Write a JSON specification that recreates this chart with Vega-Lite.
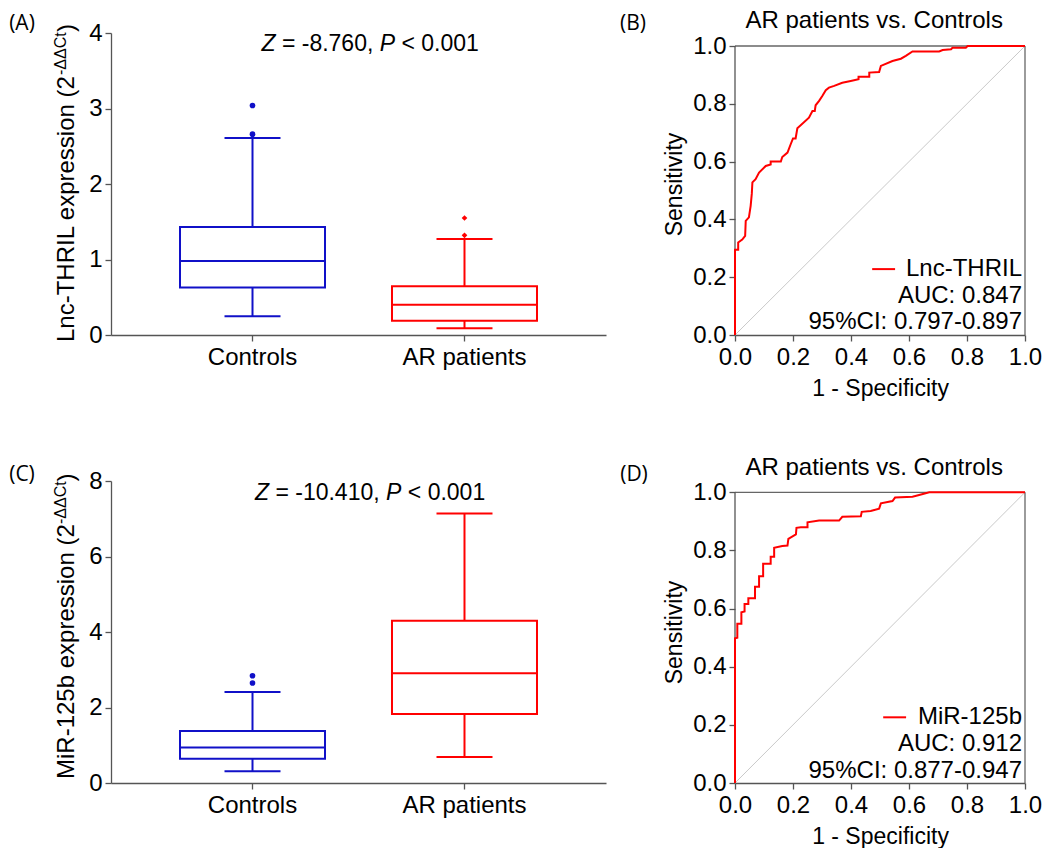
{
 "$schema": "https://vega.github.io/schema/vega-lite/v6.json",
 "background": "white",
 "padding": {"left": 9, "top": 9, "right": 0, "bottom": 0},
 "config": {
  "font": "Liberation Sans",
  "view": {"stroke": null},
  "axis": {"labelFont": "Liberation Sans", "labelFontSize": 24, "labelColor": "#000", "titleFont": "Liberation Sans", "titleFontSize": 23, "titleFontWeight": "normal", "titleColor": "#000", "domainColor": "#555", "tickColor": "#555", "domainWidth": 1.3, "tickWidth": 1.3, "tickSize": 6, "grid": false, "labelPadding": 3, "labelFlush": false},
  "text": {"font": "Liberation Sans", "color": "#000"}
 },
 "datasets": {
  "boxA": [
   {"group": "Controls", "lower": 0.25, "q1": 0.63, "median": 0.98, "q3": 1.43, "upper": 2.61},
   {"group": "AR patients", "lower": 0.09, "q1": 0.19, "median": 0.40, "q3": 0.645, "upper": 1.27}
  ],
  "outA": [
   {"group": "Controls", "value": 3.04},
   {"group": "Controls", "value": 2.66},
   {"group": "AR patients", "value": 1.55},
   {"group": "AR patients", "value": 1.32}
  ],
  "boxC": [
   {"group": "Controls", "lower": 0.31, "q1": 0.64, "median": 0.94, "q3": 1.38, "upper": 2.41},
   {"group": "AR patients", "lower": 0.69, "q1": 1.83, "median": 2.91, "q3": 4.30, "upper": 7.14}
  ],
  "outC": [
   {"group": "Controls", "value": 2.84},
   {"group": "Controls", "value": 2.65}
  ],
  "rocB": [
   {"fpr": 0, "tpr": 0}, {"fpr": 0, "tpr": 0.295}, {"fpr": 0.011, "tpr": 0.295}, {"fpr": 0.011, "tpr": 0.32},
   {"fpr": 0.025, "tpr": 0.33}, {"fpr": 0.035, "tpr": 0.343}, {"fpr": 0.037, "tpr": 0.395}, {"fpr": 0.048, "tpr": 0.407},
   {"fpr": 0.054, "tpr": 0.447}, {"fpr": 0.058, "tpr": 0.49}, {"fpr": 0.06, "tpr": 0.528}, {"fpr": 0.071, "tpr": 0.539},
   {"fpr": 0.083, "tpr": 0.562}, {"fpr": 0.106, "tpr": 0.585}, {"fpr": 0.123, "tpr": 0.59}, {"fpr": 0.123, "tpr": 0.6},
   {"fpr": 0.158, "tpr": 0.6}, {"fpr": 0.163, "tpr": 0.616}, {"fpr": 0.181, "tpr": 0.631}, {"fpr": 0.192, "tpr": 0.66},
   {"fpr": 0.2, "tpr": 0.68}, {"fpr": 0.209, "tpr": 0.68}, {"fpr": 0.215, "tpr": 0.715}, {"fpr": 0.255, "tpr": 0.752},
   {"fpr": 0.267, "tpr": 0.775}, {"fpr": 0.275, "tpr": 0.775}, {"fpr": 0.278, "tpr": 0.795}, {"fpr": 0.29, "tpr": 0.81},
   {"fpr": 0.301, "tpr": 0.827}, {"fpr": 0.313, "tpr": 0.847}, {"fpr": 0.324, "tpr": 0.856}, {"fpr": 0.342, "tpr": 0.862},
   {"fpr": 0.37, "tpr": 0.873}, {"fpr": 0.399, "tpr": 0.879}, {"fpr": 0.426, "tpr": 0.885}, {"fpr": 0.426, "tpr": 0.894},
   {"fpr": 0.463, "tpr": 0.894}, {"fpr": 0.463, "tpr": 0.908}, {"fpr": 0.497, "tpr": 0.91}, {"fpr": 0.503, "tpr": 0.931},
   {"fpr": 0.543, "tpr": 0.948}, {"fpr": 0.572, "tpr": 0.956}, {"fpr": 0.589, "tpr": 0.966}, {"fpr": 0.612, "tpr": 0.981},
   {"fpr": 0.704, "tpr": 0.981}, {"fpr": 0.716, "tpr": 0.986}, {"fpr": 0.745, "tpr": 0.989}, {"fpr": 0.75, "tpr": 0.994},
   {"fpr": 0.796, "tpr": 0.994}, {"fpr": 0.802, "tpr": 1.0}, {"fpr": 1.0, "tpr": 1.0}
  ],
  "rocD": [
   {"fpr": 0, "tpr": 0}, {"fpr": 0, "tpr": 0.498}, {"fpr": 0.008, "tpr": 0.5}, {"fpr": 0.008, "tpr": 0.548},
   {"fpr": 0.022, "tpr": 0.548}, {"fpr": 0.022, "tpr": 0.587}, {"fpr": 0.033, "tpr": 0.59}, {"fpr": 0.033, "tpr": 0.616},
   {"fpr": 0.046, "tpr": 0.616}, {"fpr": 0.046, "tpr": 0.636}, {"fpr": 0.069, "tpr": 0.636}, {"fpr": 0.069, "tpr": 0.675},
   {"fpr": 0.083, "tpr": 0.675}, {"fpr": 0.083, "tpr": 0.711}, {"fpr": 0.097, "tpr": 0.711}, {"fpr": 0.097, "tpr": 0.754},
   {"fpr": 0.123, "tpr": 0.754}, {"fpr": 0.123, "tpr": 0.778}, {"fpr": 0.135, "tpr": 0.778}, {"fpr": 0.135, "tpr": 0.809},
   {"fpr": 0.163, "tpr": 0.815}, {"fpr": 0.181, "tpr": 0.817}, {"fpr": 0.184, "tpr": 0.84}, {"fpr": 0.21, "tpr": 0.855},
   {"fpr": 0.212, "tpr": 0.878}, {"fpr": 0.227, "tpr": 0.88}, {"fpr": 0.25, "tpr": 0.88}, {"fpr": 0.25, "tpr": 0.897},
   {"fpr": 0.29, "tpr": 0.903}, {"fpr": 0.359, "tpr": 0.903}, {"fpr": 0.37, "tpr": 0.916}, {"fpr": 0.434, "tpr": 0.918},
   {"fpr": 0.437, "tpr": 0.933}, {"fpr": 0.468, "tpr": 0.936}, {"fpr": 0.497, "tpr": 0.944}, {"fpr": 0.503, "tpr": 0.962},
   {"fpr": 0.543, "tpr": 0.97}, {"fpr": 0.552, "tpr": 0.982}, {"fpr": 0.612, "tpr": 0.985}, {"fpr": 0.635, "tpr": 0.991},
   {"fpr": 0.67, "tpr": 1.0}, {"fpr": 1.0, "tpr": 1.0}
  ]
 },
 "columns": 2,
 "spacing": {"row": 146, "column": 129},
 "bounds": "flush",
 "concat": [
  {
   "width": 495, "height": 302,
   "data": {"name": "boxA"},
   "encoding": {"x": {"field": "group", "type": "nominal", "sort": ["Controls", "AR patients"], "scale": {"paddingInner": 0, "paddingOuter": 0.1675}, "axis": {"title": null, "labelAngle": 0, "labelPadding": 4}}},
   "layer": [
    {"mark": {"type": "rule", "strokeWidth": 2}, "encoding": {"y": {"field": "lower", "type": "quantitative", "scale": {"domain": [0, 4], "nice": false}, "axis": {"title": null, "values": [0, 1, 2, 3, 4], "format": "d"}}, "y2": {"field": "upper"}, "stroke": {"field": "group", "type": "nominal", "scale": {"domain": ["Controls", "AR patients"], "range": ["#1010C8", "#FF0000"]}, "legend": null}}},
    {"mark": {"type": "bar", "fill": "white", "strokeWidth": 2, "width": {"band": 0.684}}, "encoding": {"y": {"field": "q1", "type": "quantitative"}, "y2": {"field": "q3"}, "stroke": {"field": "group", "type": "nominal", "scale": {"domain": ["Controls", "AR patients"], "range": ["#1010C8", "#FF0000"]}, "legend": null}}},
    {"mark": {"type": "tick", "thickness": 2, "size": 145, "opacity": 1}, "encoding": {"y": {"field": "median", "type": "quantitative"}, "color": {"field": "group", "type": "nominal", "scale": {"domain": ["Controls", "AR patients"], "range": ["#1010C8", "#FF0000"]}, "legend": null}}},
    {"mark": {"type": "tick", "thickness": 2, "size": 56, "opacity": 1}, "encoding": {"y": {"field": "lower", "type": "quantitative"}, "color": {"field": "group", "type": "nominal", "scale": {"domain": ["Controls", "AR patients"], "range": ["#1010C8", "#FF0000"]}, "legend": null}}},
    {"mark": {"type": "tick", "thickness": 2, "size": 56, "opacity": 1}, "encoding": {"y": {"field": "upper", "type": "quantitative"}, "color": {"field": "group", "type": "nominal", "scale": {"domain": ["Controls", "AR patients"], "range": ["#1010C8", "#FF0000"]}, "legend": null}}},
    {"data": {"name": "outA"}, "mark": {"type": "point", "filled": true, "size": 32, "opacity": 1}, "encoding": {"y": {"field": "value", "type": "quantitative"}, "color": {"field": "group", "type": "nominal", "scale": {"domain": ["Controls", "AR patients"], "range": ["#1010C8", "#FF0000"]}, "legend": null}, "shape": {"field": "group", "type": "nominal", "scale": {"domain": ["Controls", "AR patients"], "range": ["circle", "diamond"]}, "legend": null}}},
    {"data": {"values": [{}]}, "mark": {"type": "text", "text": "(A)", "font": "Open Sans", "fontSize": 21, "align": "center", "baseline": "middle", "dx": -230.5, "dy": -9}, "encoding": {"x": {"datum": "Controls"}, "y": {"datum": 4}}},
    {"data": {"values": [{}]}, "mark": {"type": "text", "text": "Z", "fontStyle": "italic", "fontSize": 23, "align": "left", "baseline": "alphabetic", "dx": 9, "dy": 18}, "encoding": {"x": {"datum": "Controls"}, "y": {"datum": 4}}},
    {"data": {"values": [{}]}, "mark": {"type": "text", "text": "= -8.760,", "fontSize": 23, "align": "left", "baseline": "alphabetic", "dx": 29.4, "dy": 18}, "encoding": {"x": {"datum": "Controls"}, "y": {"datum": 4}}},
    {"data": {"values": [{}]}, "mark": {"type": "text", "text": "P", "fontStyle": "italic", "fontSize": 23, "align": "left", "baseline": "alphabetic", "dx": 127.3, "dy": 18}, "encoding": {"x": {"datum": "Controls"}, "y": {"datum": 4}}},
    {"data": {"values": [{}]}, "mark": {"type": "text", "text": "< 0.001", "fontSize": 23, "align": "left", "baseline": "alphabetic", "dx": 149, "dy": 18}, "encoding": {"x": {"datum": "Controls"}, "y": {"datum": 4}}},
    {"data": {"values": [{}]}, "mark": {"type": "text", "text": "Lnc-THRIL expression (2", "fontSize": 24, "angle": 270, "align": "left", "baseline": "alphabetic", "dx": -7, "dy": -178.5}, "encoding": {"x": {"datum": "Controls"}, "y": {"datum": 0}}},
    {"data": {"values": [{}]}, "mark": {"type": "text", "text": "-ΔΔCt", "fontSize": 16, "angle": 270, "align": "left", "baseline": "alphabetic", "dx": -42, "dy": -186.5}, "encoding": {"x": {"datum": "Controls"}, "y": {"datum": 4}}},
    {"data": {"values": [{}]}, "mark": {"type": "text", "text": ")", "fontSize": 24, "angle": 270, "align": "left", "baseline": "alphabetic", "dx": 1, "dy": -178.5}, "encoding": {"x": {"datum": "Controls"}, "y": {"datum": 4}}}
   ]
  },
  {
   "width": 290, "height": 302,
   "layer": [
    {"data": {"values": [{}]}, "mark": {"type": "rule", "color": "#bbbbbb", "strokeWidth": 0.8}, "encoding": {"x": {"datum": 0, "type": "quantitative", "scale": {"domain": [0, 1], "nice": false}, "axis": {"values": [0, 0.2, 0.4, 0.6, 0.8, 1], "format": ".1f", "title": "1 - Specificity", "titlePadding": 8, "labelPadding": 4}}, "y": {"datum": 0, "type": "quantitative", "scale": {"domain": [0, 1.045], "nice": false}, "axis": {"values": [0, 0.2, 0.4, 0.6, 0.8, 1], "format": ".1f", "title": "Sensitivity", "domain": false, "titlePadding": 6}}, "x2": {"datum": 1}, "y2": {"datum": 1}}},
    {"data": {"values": [{}]}, "mark": {"type": "rule", "color": "#666", "strokeWidth": 1.3}, "encoding": {"x": {"datum": 0}, "x2": {"datum": 1}, "y": {"datum": 1}}},
    {"data": {"values": [{}]}, "mark": {"type": "rule", "color": "#666", "strokeWidth": 1.3}, "encoding": {"x": {"datum": 1}, "y": {"datum": 0}, "y2": {"datum": 1}}},
    {"data": {"values": [{}]}, "mark": {"type": "rule", "color": "#555", "strokeWidth": 1.3}, "encoding": {"x": {"datum": 0}, "y": {"datum": 0}, "y2": {"datum": 1}}},
    {"data": {"name": "rocB"}, "mark": {"type": "line", "color": "#FF0000", "strokeWidth": 2}, "encoding": {"x": {"field": "fpr", "type": "quantitative"}, "y": {"field": "tpr", "type": "quantitative"}, "order": {"value": null}}},
    {"data": {"values": [{}]}, "mark": {"type": "rule", "color": "#FF0000", "strokeWidth": 2}, "encoding": {"x": {"datum": 0.473}, "x2": {"datum": 0.552}, "y": {"datum": 0.228}}},
    {"data": {"values": [{}]}, "mark": {"type": "text", "text": "Lnc-THRIL", "fontSize": 24, "align": "right", "baseline": "middle", "dx": -3}, "encoding": {"x": {"datum": 1}, "y": {"datum": 0.228}}},
    {"data": {"values": [{}]}, "mark": {"type": "text", "text": "AUC: 0.847", "fontSize": 24, "align": "right", "baseline": "middle", "dx": -3}, "encoding": {"x": {"datum": 1}, "y": {"datum": 0.136}}},
    {"data": {"values": [{}]}, "mark": {"type": "text", "text": "95%CI: 0.797-0.897", "fontSize": 24, "align": "right", "baseline": "middle", "dx": -3}, "encoding": {"x": {"datum": 1}, "y": {"datum": 0.044}}},
    {"data": {"values": [{}]}, "mark": {"type": "text", "text": "AR patients vs. Controls", "fontSize": 24, "align": "center", "baseline": "alphabetic", "dy": -5}, "encoding": {"x": {"datum": 0.48}, "y": {"datum": 1.045}}},
    {"data": {"values": [{}]}, "mark": {"type": "text", "text": "(B)", "font": "Open Sans", "fontSize": 21, "align": "center", "baseline": "middle", "dx": -102, "dy": -9}, "encoding": {"x": {"datum": 0}, "y": {"datum": 1.045}}}
   ]
  },
  {
   "width": 495, "height": 302,
   "data": {"name": "boxC"},
   "encoding": {"x": {"field": "group", "type": "nominal", "sort": ["Controls", "AR patients"], "scale": {"paddingInner": 0, "paddingOuter": 0.1675}, "axis": {"title": null, "labelAngle": 0, "labelPadding": 4}}},
   "layer": [
    {"mark": {"type": "rule", "strokeWidth": 2}, "encoding": {"y": {"field": "lower", "type": "quantitative", "scale": {"domain": [0, 8], "nice": false}, "axis": {"title": null, "values": [0, 2, 4, 6, 8], "format": "d"}}, "y2": {"field": "upper"}, "stroke": {"field": "group", "type": "nominal", "scale": {"domain": ["Controls", "AR patients"], "range": ["#1010C8", "#FF0000"]}, "legend": null}}},
    {"mark": {"type": "bar", "fill": "white", "strokeWidth": 2, "width": {"band": 0.684}}, "encoding": {"y": {"field": "q1", "type": "quantitative"}, "y2": {"field": "q3"}, "stroke": {"field": "group", "type": "nominal", "scale": {"domain": ["Controls", "AR patients"], "range": ["#1010C8", "#FF0000"]}, "legend": null}}},
    {"mark": {"type": "tick", "thickness": 2, "size": 145, "opacity": 1}, "encoding": {"y": {"field": "median", "type": "quantitative"}, "color": {"field": "group", "type": "nominal", "scale": {"domain": ["Controls", "AR patients"], "range": ["#1010C8", "#FF0000"]}, "legend": null}}},
    {"mark": {"type": "tick", "thickness": 2, "size": 56, "opacity": 1}, "encoding": {"y": {"field": "lower", "type": "quantitative"}, "color": {"field": "group", "type": "nominal", "scale": {"domain": ["Controls", "AR patients"], "range": ["#1010C8", "#FF0000"]}, "legend": null}}},
    {"mark": {"type": "tick", "thickness": 2, "size": 56, "opacity": 1}, "encoding": {"y": {"field": "upper", "type": "quantitative"}, "color": {"field": "group", "type": "nominal", "scale": {"domain": ["Controls", "AR patients"], "range": ["#1010C8", "#FF0000"]}, "legend": null}}},
    {"data": {"name": "outC"}, "mark": {"type": "point", "filled": true, "size": 32, "opacity": 1}, "encoding": {"y": {"field": "value", "type": "quantitative"}, "color": {"field": "group", "type": "nominal", "scale": {"domain": ["Controls", "AR patients"], "range": ["#1010C8", "#FF0000"]}, "legend": null}, "shape": {"field": "group", "type": "nominal", "scale": {"domain": ["Controls", "AR patients"], "range": ["circle", "diamond"]}, "legend": null}}},
    {"data": {"values": [{}]}, "mark": {"type": "text", "text": "(C)", "font": "Open Sans", "fontSize": 21, "align": "center", "baseline": "middle", "dx": -230.5, "dy": -6.5}, "encoding": {"x": {"datum": "Controls"}, "y": {"datum": 8}}},
    {"data": {"values": [{}]}, "mark": {"type": "text", "text": "Z", "fontStyle": "italic", "fontSize": 23, "align": "left", "baseline": "alphabetic", "dx": 2.5, "dy": 19}, "encoding": {"x": {"datum": "Controls"}, "y": {"datum": 8}}},
    {"data": {"values": [{}]}, "mark": {"type": "text", "text": "= -10.410,", "fontSize": 23, "align": "left", "baseline": "alphabetic", "dx": 22.9, "dy": 19}, "encoding": {"x": {"datum": "Controls"}, "y": {"datum": 8}}},
    {"data": {"values": [{}]}, "mark": {"type": "text", "text": "P", "fontStyle": "italic", "fontSize": 23, "align": "left", "baseline": "alphabetic", "dx": 133.6, "dy": 19}, "encoding": {"x": {"datum": "Controls"}, "y": {"datum": 8}}},
    {"data": {"values": [{}]}, "mark": {"type": "text", "text": "< 0.001", "fontSize": 23, "align": "left", "baseline": "alphabetic", "dx": 155.3, "dy": 19}, "encoding": {"x": {"datum": "Controls"}, "y": {"datum": 8}}},
    {"data": {"values": [{}]}, "mark": {"type": "text", "text": "MiR-125b expression (2", "fontSize": 24, "angle": 270, "align": "left", "baseline": "alphabetic", "dx": 4, "dy": -178.5}, "encoding": {"x": {"datum": "Controls"}, "y": {"datum": 0}}},
    {"data": {"values": [{}]}, "mark": {"type": "text", "text": "-ΔΔCt", "fontSize": 16, "angle": 270, "align": "left", "baseline": "alphabetic", "dx": -43, "dy": -186.5}, "encoding": {"x": {"datum": "Controls"}, "y": {"datum": 8}}},
    {"data": {"values": [{}]}, "mark": {"type": "text", "text": ")", "fontSize": 24, "angle": 270, "align": "left", "baseline": "alphabetic", "dx": -0.6, "dy": -178.5}, "encoding": {"x": {"datum": "Controls"}, "y": {"datum": 8}}}
   ]
  },
  {
   "width": 290, "height": 302,
   "layer": [
    {"data": {"values": [{}]}, "mark": {"type": "rule", "color": "#bbbbbb", "strokeWidth": 0.8}, "encoding": {"x": {"datum": 0, "type": "quantitative", "scale": {"domain": [0, 1], "nice": false}, "axis": {"values": [0, 0.2, 0.4, 0.6, 0.8, 1], "format": ".1f", "title": "1 - Specificity", "titlePadding": 8, "labelPadding": 4}}, "y": {"datum": 0, "type": "quantitative", "scale": {"domain": [0, 1.039], "nice": false}, "axis": {"values": [0, 0.2, 0.4, 0.6, 0.8, 1], "format": ".1f", "title": "Sensitivity", "domain": false, "titlePadding": 6}}, "x2": {"datum": 1}, "y2": {"datum": 1}}},
    {"data": {"values": [{}]}, "mark": {"type": "rule", "color": "#666", "strokeWidth": 1.3}, "encoding": {"x": {"datum": 0}, "x2": {"datum": 1}, "y": {"datum": 1}}},
    {"data": {"values": [{}]}, "mark": {"type": "rule", "color": "#666", "strokeWidth": 1.3}, "encoding": {"x": {"datum": 1}, "y": {"datum": 0}, "y2": {"datum": 1}}},
    {"data": {"values": [{}]}, "mark": {"type": "rule", "color": "#555", "strokeWidth": 1.3}, "encoding": {"x": {"datum": 0}, "y": {"datum": 0}, "y2": {"datum": 1}}},
    {"data": {"name": "rocD"}, "mark": {"type": "line", "color": "#FF0000", "strokeWidth": 2}, "encoding": {"x": {"field": "fpr", "type": "quantitative"}, "y": {"field": "tpr", "type": "quantitative"}, "order": {"value": null}}},
    {"data": {"values": [{}]}, "mark": {"type": "rule", "color": "#FF0000", "strokeWidth": 2}, "encoding": {"x": {"datum": 0.511}, "x2": {"datum": 0.59}, "y": {"datum": 0.226}}},
    {"data": {"values": [{}]}, "mark": {"type": "text", "text": "MiR-125b", "fontSize": 24, "align": "right", "baseline": "middle", "dx": -3}, "encoding": {"x": {"datum": 1}, "y": {"datum": 0.226}}},
    {"data": {"values": [{}]}, "mark": {"type": "text", "text": "AUC: 0.912", "fontSize": 24, "align": "right", "baseline": "middle", "dx": -3}, "encoding": {"x": {"datum": 1}, "y": {"datum": 0.134}}},
    {"data": {"values": [{}]}, "mark": {"type": "text", "text": "95%CI: 0.877-0.947", "fontSize": 24, "align": "right", "baseline": "middle", "dx": -3}, "encoding": {"x": {"datum": 1}, "y": {"datum": 0.042}}},
    {"data": {"values": [{}]}, "mark": {"type": "text", "text": "AR patients vs. Controls", "fontSize": 24, "align": "center", "baseline": "alphabetic", "dy": -6}, "encoding": {"x": {"datum": 0.48}, "y": {"datum": 1.039}}},
    {"data": {"values": [{}]}, "mark": {"type": "text", "text": "(D)", "font": "Open Sans", "fontSize": 21, "align": "center", "baseline": "middle", "dx": -101, "dy": -6.5}, "encoding": {"x": {"datum": 0}, "y": {"datum": 1.039}}}
   ]
  }
 ]
}
